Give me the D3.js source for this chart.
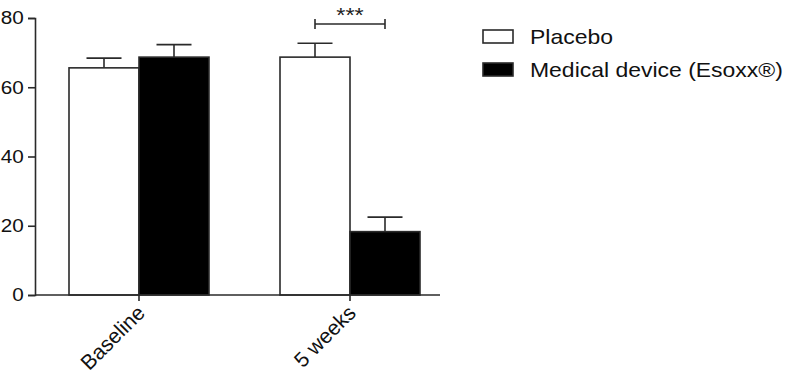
<!DOCTYPE html>
<html><head><meta charset="utf-8">
<script src="https://cdn.jsdelivr.net/npm/d3@7"></script>
<style>body{margin:0;background:#fff}svg{display:block}</style>
</head><body>
<script>
const categories = ["Baseline", "5 weeks"];
const series = ["Placebo", "Medical device (Esoxx®)"];
const placeboMean = [65.6, 68.7];
const placeboErr = [2.8, 4.0];
const deviceMean = [68.7, 18.3];
const deviceErr = [3.6, 4.2];
const yTicks = [0, 20, 40, 60, 80];
const fills = ["#ffffff", "#000000"];

const W = 788, H = 374;
const SX = 1.12; // horizontal stretch of text seen in the reference
const svg = d3.select("body").append("svg").attr("width", W).attr("height", H)
  .style("font-family", "'Liberation Sans', Arial, Helvetica, sans-serif");

const y = d3.scaleLinear().domain([0, 80]).range([295, 18]);
const xc = d3.scalePoint().domain(categories).range([139, 350]);
const barW = 70;
const x1 = d3.scaleBand().domain(series).range([-barW, barW]);
const stroke = "#2a2a2a";

const data = [];
categories.forEach((c, i) => {
  data.push({c, s: series[0], v: placeboMean[i], e: placeboErr[i], f: fills[0]});
  data.push({c, s: series[1], v: deviceMean[i], e: deviceErr[i], f: fills[1]});
});

const g = svg.append("g");
data.forEach(d => {
  const cx = xc(d.c) + x1(d.s) + x1.bandwidth() / 2;
  g.append("line").attr("x1", cx).attr("x2", cx).attr("y1", y(d.v)).attr("y2", y(d.v + d.e))
    .attr("stroke", stroke).attr("stroke-width", 1.6);
  g.append("line").attr("x1", cx - x1.bandwidth() / 4).attr("x2", cx + x1.bandwidth() / 4)
    .attr("y1", y(d.v + d.e)).attr("y2", y(d.v + d.e))
    .attr("stroke", stroke).attr("stroke-width", 1.6);
});
g.selectAll("rect.bar").data(data).join("rect").attr("class", "bar")
  .attr("x", d => xc(d.c) + x1(d.s))
  .attr("y", d => y(d.v))
  .attr("width", x1.bandwidth())
  .attr("height", d => y(0) - y(d.v))
  .attr("fill", d => d.f)
  .attr("stroke", stroke).attr("stroke-width", 1.6);

// y axis
const ya = svg.append("g").attr("transform", "translate(35,0)")
  .call(d3.axisLeft(y).tickValues(yTicks).tickSize(7).tickPadding(4));
ya.select(".domain").attr("stroke", stroke).attr("stroke-width", 1.6);
ya.selectAll(".tick line").attr("stroke", stroke).attr("stroke-width", 1.6);
ya.selectAll(".tick text").attr("font-size", 18.5).attr("fill", "#111")
  .attr("font-family", "'Liberation Sans', Arial, sans-serif")
  .attr("transform", `translate(1,0) scale(${SX},1)`);

// x axis
const xa = svg.append("g").attr("transform", `translate(0,${y(0)})`);
xa.append("line").attr("x1", 35).attr("x2", 440).attr("y1", 0).attr("y2", 0)
  .attr("stroke", stroke).attr("stroke-width", 1.6);
categories.forEach(c => {
  xa.append("line").attr("x1", xc(c)).attr("x2", xc(c)).attr("y1", 0).attr("y2", 6)
    .attr("stroke", stroke).attr("stroke-width", 1.6);
  xa.append("text").attr("transform", `translate(${xc(c) + 2},${14}) rotate(-45)`)
    .attr("text-anchor", "end").attr("font-size", 21).attr("fill", "#111")
    .attr("dy", "0.35em").text(c);
});

// significance bracket
const bx1 = xc(categories[1]) + x1(series[0]) + x1.bandwidth() / 2;
const bx2 = xc(categories[1]) + x1(series[1]) + x1.bandwidth() / 2;
const by = 24;
svg.append("line").attr("x1", bx1).attr("x2", bx2).attr("y1", by).attr("y2", by).attr("stroke", stroke).attr("stroke-width", 1.6);
[bx1, bx2].forEach(bx => svg.append("line").attr("x1", bx).attr("x2", bx).attr("y1", by - 5).attr("y2", by + 5).attr("stroke", stroke).attr("stroke-width", 1.6));
svg.append("text").attr("transform", `translate(${(bx1 + bx2) / 2},22) scale(${SX},1)`).attr("text-anchor", "middle")
  .attr("font-size", 21).attr("fill", "#222").text("***");

// legend
const lg = svg.append("g").attr("transform", "translate(483,30)");
series.forEach((s, i) => {
  lg.append("rect").attr("x", 0).attr("y", i * 33).attr("width", 30).attr("height", 13)
    .attr("fill", fills[i]).attr("stroke", stroke).attr("stroke-width", 1.6);
  lg.append("text").attr("transform", `translate(47,${i * 33 + 14}) scale(${SX},1)`)
    .attr("font-size", 20.5).attr("fill", "#111").text(s);
});
</script>
</body></html>
